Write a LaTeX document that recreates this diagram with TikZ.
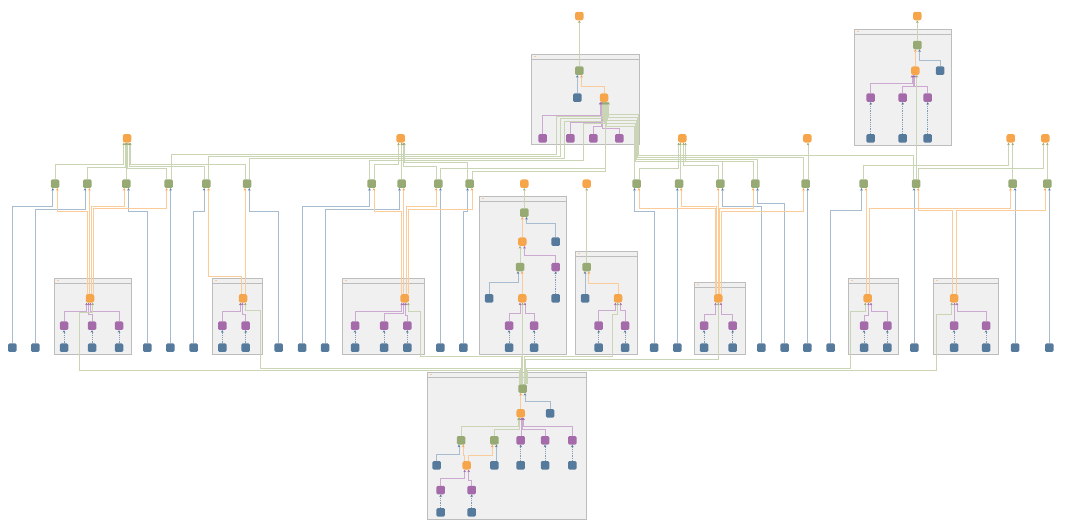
\documentclass[tikz,border=0pt]{standalone}
\usepackage{xcolor}
\usepackage{tikz}
\usetikzlibrary{arrows.meta,backgrounds}
\definecolor{nOrange}{HTML}{F7A54B}
\definecolor{nGreen}{HTML}{98AA73}
\definecolor{nPurple}{HTML}{A46AAA}
\definecolor{nBlue}{HTML}{567A9B}
\definecolor{eOrange}{HTML}{F9CC9A}
\definecolor{eGreen}{HTML}{C9D5B5}
\definecolor{ePurple}{HTML}{CCA9D1}
\definecolor{eBlue}{HTML}{A8BCCF}
\definecolor{boxFill}{HTML}{F0F0F0}
\definecolor{boxLine}{HTML}{BDBDBD}
\newcommand{\grpbox}[4]{%
  \draw[grp] (#1,#2) rectangle (#3,#4);
  \draw[boxLine, line width=0.5pt] (#1,#2+4.5) -- (#3,#2+4.5);
  \fill[nOrange!60] (#1+2.2,#2+1.7) rectangle (#1+4.8,#2+2.7);
}

\begin{document}
\begin{tikzpicture}[
    x=1pt, y=-1pt,
    sq/.style={minimum size=8.5pt, inner sep=0pt, rounded corners=1.3pt},
    gsq/.style={sq, fill=nGreen},
    osq/.style={sq, fill=nOrange, rounded corners=2.2pt},
    psq/.style={sq, fill=nPurple},
    bsq/.style={sq, fill=nBlue},
    link/.style={line width=0.75pt},
    gline/.style={link, draw=eGreen, -{Stealth[length=2.4pt,width=2.6pt,color=nGreen]}},
    oline/.style={link, draw=eOrange, -{Stealth[length=2.4pt,width=2.6pt,color=nOrange]}},
    pline/.style={link, draw=ePurple, -{Stealth[length=2.4pt,width=2.6pt,color=nPurple]}},
    bline/.style={link, draw=eBlue, -{Stealth[length=2.4pt,width=2.6pt,color=nBlue]}},
    bdots/.style={line width=1pt, draw=nBlue!75, dash pattern=on 0.9pt off 0.9pt, -{Stealth[length=2.4pt,width=2.6pt,color=nBlue]}},
    grp/.style={draw=boxLine, fill=boxFill, line width=0.7pt},
]
\useasboundingbox (0,0) rectangle (1070,530);

% Top groups
\node[osq] (t1top) at (579.3,16) {};
\node[osq] (t2top) at (917.3,16) {};
\node[gsq] (t1g) at (579.3,70.7) {};
\node[bsq] (t1b) at (577.3,97.7) {};
\node[osq] (t1o) at (604,97.7) {};
\foreach \n/\x in {1/542.7,2/570.3,3/593.3,4/619.3}
  \node[psq] (tp\n) at (\x,138.3) {};
\node[gsq] (t2g) at (917.3,45) {};
\node[osq] (t2o) at (915.3,70.7) {};
\node[bsq] (t2b) at (940,70.7) {};
\foreach \n/\x in {1/870.7,2/902.7,3/927.7} {
  \node[psq] (t2p\n) at (\x,97.7) {};
  \node[bsq] (t2p\n-b) at (\x,138.3) {};
}

% Row of outputs
\foreach \n/\x in {1/127,2/400.7,3/682.3,4/807.3,5/1010.7,6/1045.3}
  \node[osq] (o\n) at (\x,138.3) {};
\foreach \n/\x in {1/55,2/87.3,3/126.3,4/168.7,5/206.3,6/247,7/371.7,8/401.7,9/438.3,10/469.7,
    11/636.7,12/679,13/720.3,14/755.3,15/805.7,16/863.7,17/916,18/1012.7,19/1047.3}
  \node[gsq] (g\n) at (\x,183.7) {};
\node[osq] (dtop) at (524.3,183.7) {};
\node[osq] (etop) at (586.7,183.7) {};

% Free inputs
\foreach \n/\x in {1/12.3,2/35.3,3/147.3,4/170.3,5/193.7,6/278.7,7/302,8/325,9/440.3,10/463.3,
    11/654,12/677.3,13/761.3,14/784.7,15/807.3,16/830.7,17/914.3,18/1015,19/1049.3}
  \node[bsq] (fb\n) at (\x,347.7) {};

% Middle groups
\node[osq] (ao) at (90,298.3) {};
\foreach \n/\x in {1/64,2/92,3/119} {
  \node[psq] (ap\n) at (\x,325.7) {};
  \node[bsq] (ap\n-b) at (\x,347.7) {};
}
\node[osq] (bo) at (243,298.3) {};
\foreach \n/\x in {1/222.3,2/245.7} {
  \node[psq] (bp\n) at (\x,325.7) {};
  \node[bsq] (bp\n-b) at (\x,347.7) {};
}
\node[osq] (co) at (404.7,298.3) {};
\foreach \n/\x in {1/355,2/384,3/407.3} {
  \node[psq] (cp\n) at (\x,325.7) {};
  \node[bsq] (cp\n-b) at (\x,347.7) {};
}
\node[gsq] (dg1) at (524.3,212.7) {};
\node[osq] (do1) at (522.3,241.7) {};
\node[bsq] (db1) at (555.7,241.7) {};
\node[gsq] (dg2) at (520,267) {};
\node[psq] (dp1) at (555.7,267) {};
\node[bsq] (db2) at (489,298.3) {};
\node[osq] (do3) at (522.3,298.3) {};
\node[bsq] (dp1-b) at (555.7,298.3) {};
\foreach \n/\x in {2/509,3/534} {
  \node[psq] (dp\n) at (\x,325.7) {};
  \node[bsq] (dp\n-b) at (\x,347.7) {};
}
\node[gsq] (eg) at (586.7,267) {};
\node[bsq] (eb) at (585,298.3) {};
\node[osq] (eo) at (618,298.3) {};
\foreach \n/\x in {1/598.7,2/625} {
  \node[psq] (ep\n) at (\x,325.7) {};
  \node[bsq] (ep\n-b) at (\x,347.7) {};
}
\node[osq] (fo) at (718.3,298.3) {};
\foreach \n/\x in {1/704,2/732.7} {
  \node[psq] (fp\n) at (\x,325.7) {};
  \node[bsq] (fp\n-b) at (\x,347.7) {};
}
\node[osq] (go) at (867.7,298.3) {};
\foreach \n/\x in {1/864,2/887.3} {
  \node[psq] (gp\n) at (\x,325.7) {};
  \node[bsq] (gp\n-b) at (\x,347.7) {};
}
\node[osq] (ho) at (954,298.3) {};
\foreach \n/\x in {1/954,2/986} {
  \node[psq] (hp\n) at (\x,325.7) {};
  \node[bsq] (hp\n-b) at (\x,347.7) {};
}

% Bottom group
\node[gsq] (bg) at (522.7,388.7) {};
\node[osq] (bgo) at (520.7,413.3) {};
\node[bsq] (bgb) at (550,413.3) {};
\node[gsq] (bgg1) at (461,440.3) {};
\node[gsq] (bgg2) at (494.3,440.3) {};
\foreach \n/\x in {1/520.7,2/545,3/572.3} {
  \node[psq] (bgp\n) at (\x,440.3) {};
  \node[bsq] (bgp\n-b) at (\x,465.3) {};
}
\node[bsq] (bgb1) at (436.7,465.3) {};
\node[osq] (bgo2) at (466.7,465.3) {};
\node[bsq] (bgb2) at (494.3,465.3) {};
\foreach \n/\x in {4/440.7,5/471.7} {
  \node[psq] (bgp\n) at (\x,490) {};
  \node[bsq] (bgp\n-b) at (\x,512.3) {};
}

% Group frames
\begin{scope}[on background layer]
\grpbox{531.3}{54.3}{639.3}{144.3}
\grpbox{854.3}{29.3}{951.7}{145}
\grpbox{54.3}{278.3}{131.3}{354.3}
\grpbox{212.3}{278.3}{262.3}{354.3}
\grpbox{342.3}{278.3}{424.3}{354.3}
\grpbox{479.3}{196.7}{566.7}{354}
\grpbox{575.3}{251.7}{637.3}{354}
\grpbox{694.3}{282.3}{745.3}{354.3}
\grpbox{848.3}{278.3}{898.3}{354.3}
\grpbox{933.3}{278.3}{998.7}{354.3}
\grpbox{427.3}{372.3}{586.3}{519}
\end{scope}

% Connectors
\begin{scope}[on background layer]
% dotted inputs
\foreach \p in {ap1,ap2,ap3,bp1,bp2,cp1,cp2,cp3,dp1,dp2,dp3,ep1,ep2,fp1,fp2,gp1,gp2,hp1,hp2,
    t2p1,t2p2,t2p3,bgp1,bgp2,bgp3,bgp4,bgp5}
  \draw[bdots] (\p-b.north) -- (\p.south);

% top group 1
\draw[gline] (t1g.north) -- (t1top.south);
\draw[bline] (t1b.north) -- (577.3,0 |- t1g.south);
\draw[oline] (t1o.north) |- (581.5,86) -- (581.5,0 |- t1g.south);
\draw[pline] (tp1.north) |- (600.2,115) -- (600.2,0 |- t1o.south);
\draw[pline] (tp2.north) |- (600.9,122.7) -- (600.9,0 |- t1o.south);
\draw[pline] (tp3.north) |- (601.6,126.7) -- (601.6,0 |- t1o.south);
\draw[pline] (tp4.north) |- (602.2,128.5) -- (602.2,0 |- t1o.south);
\draw[gline] (170.9,0 |- g4.north) |- (556.5,154) |- (602.6,116) -- (602.6,0 |- t1o.south);
\draw[gline] (208.5,0 |- g5.north) |- (560,156) |- (603.2,118.5) -- (603.2,0 |- t1o.south);
\draw[gline] (249.3,0 |- g6.north) |- (564,158) |- (603.8,121) -- (603.8,0 |- t1o.south);
\draw[gline] (369.5,0 |- g7.north) |- (583,160) |- (604.4,123.5) -- (604.4,0 |- t1o.south);
\draw[gline] (440.5,0 |- g9.north) |- (605,168) -- (605,0 |- t1o.south);
\draw[gline] (471.9,0 |- g10.north) |- (605.6,171) -- (605.6,0 |- t1o.south);
\draw[gline] (634.5,0 |- g11.north) |- (606.2,126) -- (606.2,0 |- t1o.south);
\draw[gline] (722.5,0 |- g13.north) |- (635.5,161) |- (606.8,123) -- (606.8,0 |- t1o.south);
\draw[gline] (757.5,0 |- g14.north) |- (636.5,159) |- (607.4,120) -- (607.4,0 |- t1o.south);
\draw[gline] (803.5,0 |- g15.north) |- (637.5,157) |- (608,117) -- (608,0 |- t1o.south);
\draw[gline] (913.5,0 |- g17.north) |- (638.5,155) |- (608.5,114) -- (608.5,0 |- t1o.south);

% top group 2
\draw[gline] (t2g.north) -- (t2top.south);
\draw[oline] (t2o.north) -- (915.3,0 |- t2g.south);
\draw[bline] (t2b.north) |- (919.5,60) -- (919.5,0 |- t2g.south);
\draw[pline] (t2p1.north) |- (912,83.5) -- (912,0 |- t2o.south);
\draw[pline] (t2p2.north) |- (913.5,86) -- (913.5,0 |- t2o.south);
\draw[pline] (t2p3.north) |- (914.8,86) -- (914.8,0 |- t2o.south);
\draw[gline] (916.8,0 |- g17.north) -- (916.8,0 |- t2o.south);

% row outputs
\draw[gline] (g1.north) |- (123.8,164.5) -- (123.8,0 |- o1.south);
\draw[gline] (g2.north) |- (125.2,167) -- (125.2,0 |- o1.south);
\draw[gline] (126.5,0 |- g3.north) -- (126.5,0 |- o1.south);
\draw[gline] (166.5,0 |- g4.north) |- (127.8,168.7) -- (127.8,0 |- o1.south);
\draw[gline] (204.3,0 |- g5.north) |- (129.1,166.5) -- (129.1,0 |- o1.south);
\draw[gline] (245,0 |- g6.north) |- (130.3,164.5) -- (130.3,0 |- o1.south);
\draw[gline] (373.9,0 |- g7.north) |- (398.5,164) -- (398.5,0 |- o2.south);
\draw[gline] (g8.north) -- (401.7,0 |- o2.south);
\draw[gline] (436.1,0 |- g9.north) |- (403.2,166) -- (403.2,0 |- o2.south);
\draw[gline] (467.5,0 |- g10.north) |- (404.4,162) -- (404.4,0 |- o2.south);
\draw[gline] (638.9,0 |- g11.north) |- (678.6,168) -- (678.6,0 |- o3.south);
\draw[gline] (680.3,0 |- g12.north) -- (680.3,0 |- o3.south);
\draw[gline] (718.1,0 |- g13.north) |- (683.5,165) -- (683.5,0 |- o3.south);
\draw[gline] (753.1,0 |- g14.north) |- (685.5,161.5) -- (685.5,0 |- o3.south);
\draw[gline] (808,0 |- g15.north) -- (808,0 |- o4.south);
\draw[gline] (g16.north) |- (1008.5,165.7) -- (1008.5,0 |- o5.south);
\draw[gline] (g18.north) -- (1012.7,0 |- o5.south);
\draw[gline] (918.5,0 |- g17.north) |- (1043.3,168.3) -- (1043.3,0 |- o6.south);
\draw[gline] (g19.north) -- (1047.3,0 |- o6.south);

% free inputs
\draw[bline] (fb1.north) |- (52.8,206) -- (52.8,0 |- g1.south);
\draw[bline] (fb2.north) |- (85.1,209) -- (85.1,0 |- g2.south);
\draw[bline] (fb3.north) |- (128.5,211) -- (128.5,0 |- g3.south);
\draw[bline] (170.6,0 |- fb4.north) -- (170.6,0 |- g4.south);
\draw[bline] (fb5.north) |- (204.1,211) -- (204.1,0 |- g5.south);
\draw[bline] (fb6.north) |- (249.3,211) -- (249.3,0 |- g6.south);
\draw[bline] (fb7.north) |- (369.5,206) -- (369.5,0 |- g7.south);
\draw[bline] (fb8.north) |- (399.5,209) -- (399.5,0 |- g8.south);
\draw[bline] (440.4,0 |- fb9.north) -- (440.4,0 |- g9.south);
\draw[bline] (fb10.north) |- (467.5,211) -- (467.5,0 |- g10.south);
\draw[bline] (fb11.north) |- (634.5,211) -- (634.5,0 |- g11.south);
\draw[bline] (677.3,0 |- fb12.north) -- (677.3,0 |- g12.south);
\draw[bline] (fb13.north) |- (722.5,206) -- (722.5,0 |- g13.south);
\draw[bline] (fb14.north) |- (757.5,203.7) -- (757.5,0 |- g14.south);
\draw[bline] (807.8,0 |- fb15.north) -- (807.8,0 |- g15.south);
\draw[bline] (fb16.north) |- (861.5,210.7) -- (861.5,0 |- g16.south);
\draw[bline] (914,0 |- fb17.north) -- (914,0 |- g17.south);
\draw[bline] (1015,0 |- fb18.north) -- (1015,0 |- g18.south);
\draw[bline] (1049.4,0 |- fb19.north) -- (1049.4,0 |- g19.south);

% group outputs to the row
\draw[oline] (87,0 |- ao.north) |- (57.3,211) -- (57.3,0 |- g1.south);
\draw[oline] (89.4,0 |- ao.north) -- (89.4,0 |- g2.south);
\draw[oline] (91.5,0 |- ao.north) |- (124.2,206) -- (124.2,0 |- g3.south);
\draw[oline] (93.5,0 |- ao.north) |- (166.6,208) -- (166.6,0 |- g4.south);
\draw[oline] (241,0 |- bo.north) |- (208.5,276.7) -- (208.5,0 |- g5.south);
\draw[oline] (245,0 |- bo.north) -- (245,0 |- g6.south);
\draw[oline] (401,0 |- co.north) |- (373.9,211) -- (373.9,0 |- g7.south);
\draw[oline] (403.7,0 |- co.north) -- (403.7,0 |- g8.south);
\draw[oline] (406,0 |- co.north) |- (436.1,206) -- (436.1,0 |- g9.south);
\draw[oline] (408,0 |- co.north) |- (471.9,209) -- (471.9,0 |- g10.south);
\draw[oline] (715.3,0 |- fo.north) |- (638.9,208.3) -- (638.9,0 |- g11.south);
\draw[oline] (716.8,0 |- fo.north) |- (681.2,206) -- (681.2,0 |- g12.south);
\draw[oline] (718.1,0 |- fo.north) -- (718.1,0 |- g13.south);
\draw[oline] (719.6,0 |- fo.north) |- (753.1,208.5) -- (753.1,0 |- g14.south);
\draw[oline] (721.1,0 |- fo.north) |- (803.5,211) -- (803.5,0 |- g15.south);
\draw[oline] (866,0 |- go.north) -- (866,0 |- g16.south);
\draw[oline] (869.5,0 |- go.north) |- (1010.5,208.3) -- (1010.5,0 |- g18.south);
\draw[oline] (952.5,0 |- ho.north) |- (918.2,210.7) -- (918.2,0 |- g17.south);
\draw[oline] (956,0 |- ho.north) |- (1045.1,210.7) -- (1045.1,0 |- g19.south);

% group internals
\draw[pline] (ap1.north) |- (86.5,311) -- (86.5,0 |- ao.south);
\draw[pline] (ap2.north) |- (88.5,314.5) -- (88.5,0 |- ao.south);
\draw[pline] (ap3.north) |- (90.5,311) -- (90.5,0 |- ao.south);
\draw[pline] (bp1.north) |- (240.3,311) -- (240.3,0 |- bo.south);
\draw[pline] (bp2.north) |- (242.3,314.5) -- (242.3,0 |- bo.south);
\draw[pline] (cp1.north) |- (401.8,311) -- (401.8,0 |- co.south);
\draw[pline] (cp2.north) |- (403.8,313) -- (403.8,0 |- co.south);
\draw[pline] (cp3.north) |- (405.8,315.5) -- (405.8,0 |- co.south);
\draw[gline] (dg1.north) -- (dtop.south);
\draw[oline] (522.3,0 |- do1.north) -- (522.3,0 |- dg1.south);
\draw[bline] (db1.north) |- (526.5,223.3) -- (526.5,0 |- dg1.south);
\draw[gline] (dg2.north) -- (520,0 |- do1.south);
\draw[pline] (dp1.north) |- (524.5,255.7) -- (524.5,0 |- do1.south);
\draw[bline] (db2.north) |- (518,282.7) -- (518,0 |- dg2.south);
\draw[oline] (522,0 |- do3.north) -- (522,0 |- dg2.south);
\draw[pline] (dp2.north) |- (520,313.3) -- (520,0 |- do3.south);
\draw[pline] (dp3.north) |- (525,313.3) -- (525,0 |- do3.south);
\draw[gline] (eg.north) -- (etop.south);
\draw[bline] (eb.north) -- (585,0 |- eg.south);
\draw[oline] (eo.north) |- (588.8,283.3) -- (588.8,0 |- eg.south);
\draw[pline] (ep1.north) |- (615.3,310) -- (615.3,0 |- eo.south);
\draw[pline] (ep2.north) |- (620.7,310) -- (620.7,0 |- eo.south);
\draw[pline] (fp1.north) |- (715.5,314) -- (715.5,0 |- fo.south);
\draw[pline] (fp2.north) |- (721,314) -- (721,0 |- fo.south);
\draw[pline] (gp1.north) |- (868.5,315) -- (868.5,0 |- go.south);
\draw[pline] (gp2.north) |- (871,311) -- (871,0 |- go.south);
\draw[pline] (954.5,0 |- hp1.north) -- (954.5,0 |- ho.south);
\draw[pline] (hp2.north) |- (957,311) -- (957,0 |- ho.south);

% bottom group
\draw[oline] (520.7,0 |- bgo.north) -- (520.7,0 |- bg.south);
\draw[bline] (bgb.north) |- (525,401.7) -- (525,0 |- bg.south);
\draw[gline] (bgg1.north) |- (518.5,426.7) -- (518.5,0 |- bgo.south);
\draw[gline] (bgg2.north) |- (519.7,429.3) -- (519.7,0 |- bgo.south);
\draw[pline] (521.2,0 |- bgp1.north) -- (521.2,0 |- bgo.south);
\draw[pline] (bgp2.north) |- (522.4,429.3) -- (522.4,0 |- bgo.south);
\draw[pline] (bgp3.north) |- (523.6,426.7) -- (523.6,0 |- bgo.south);
\draw[bline] (bgb1.north) |- (459,454) -- (459,0 |- bgg1.south);
\draw[oline] (464.8,0 |- bgo2.north) |- (463.2,455.7) -- (463.2,0 |- bgg1.south);
\draw[oline] (468.6,0 |- bgo2.north) |- (492.2,455.7) -- (492.2,0 |- bgg2.south);
\draw[bline] (496.4,0 |- bgb2.north) -- (496.4,0 |- bgg2.south);
\draw[pline] (bgp4.north) |- (464.7,478.3) -- (464.7,0 |- bgo2.south);
\draw[pline] (bgp5.north) |- (468.7,480) -- (468.7,0 |- bgo2.south);

% shared input to the groups
\draw[gline] (519,0 |- bg.north) |- (79,370.3) |- (92.7,312.7) -- (92.7,0 |- ao.south);
\draw[gline] (520,0 |- bg.north) |- (260.7,368) |- (245.3,310.7) -- (245.3,0 |- bo.south);
\draw[gline] (521,0 |- bg.north) |- (420,356.7) |- (408.3,311.7) -- (408.3,0 |- co.south);
\draw[gline] (522.5,0 |- bg.north) -- (522.5,0 |- do3.south);
\draw[gline] (524,0 |- bg.north) |- (612,356.7) |- (617.8,314) -- (617.8,0 |- eo.south);
\draw[gline] (525,0 |- bg.north) |- (718.3,359) -- (718.3,0 |- fo.south);
\draw[gline] (526,0 |- bg.north) |- (850,368) |- (865.2,311.7) -- (865.2,0 |- go.south);
\draw[gline] (527,0 |- bg.north) |- (936,370.3) |- (951.7,314.3) -- (951.7,0 |- ho.south);
\end{scope}
\end{tikzpicture}
\end{document}
